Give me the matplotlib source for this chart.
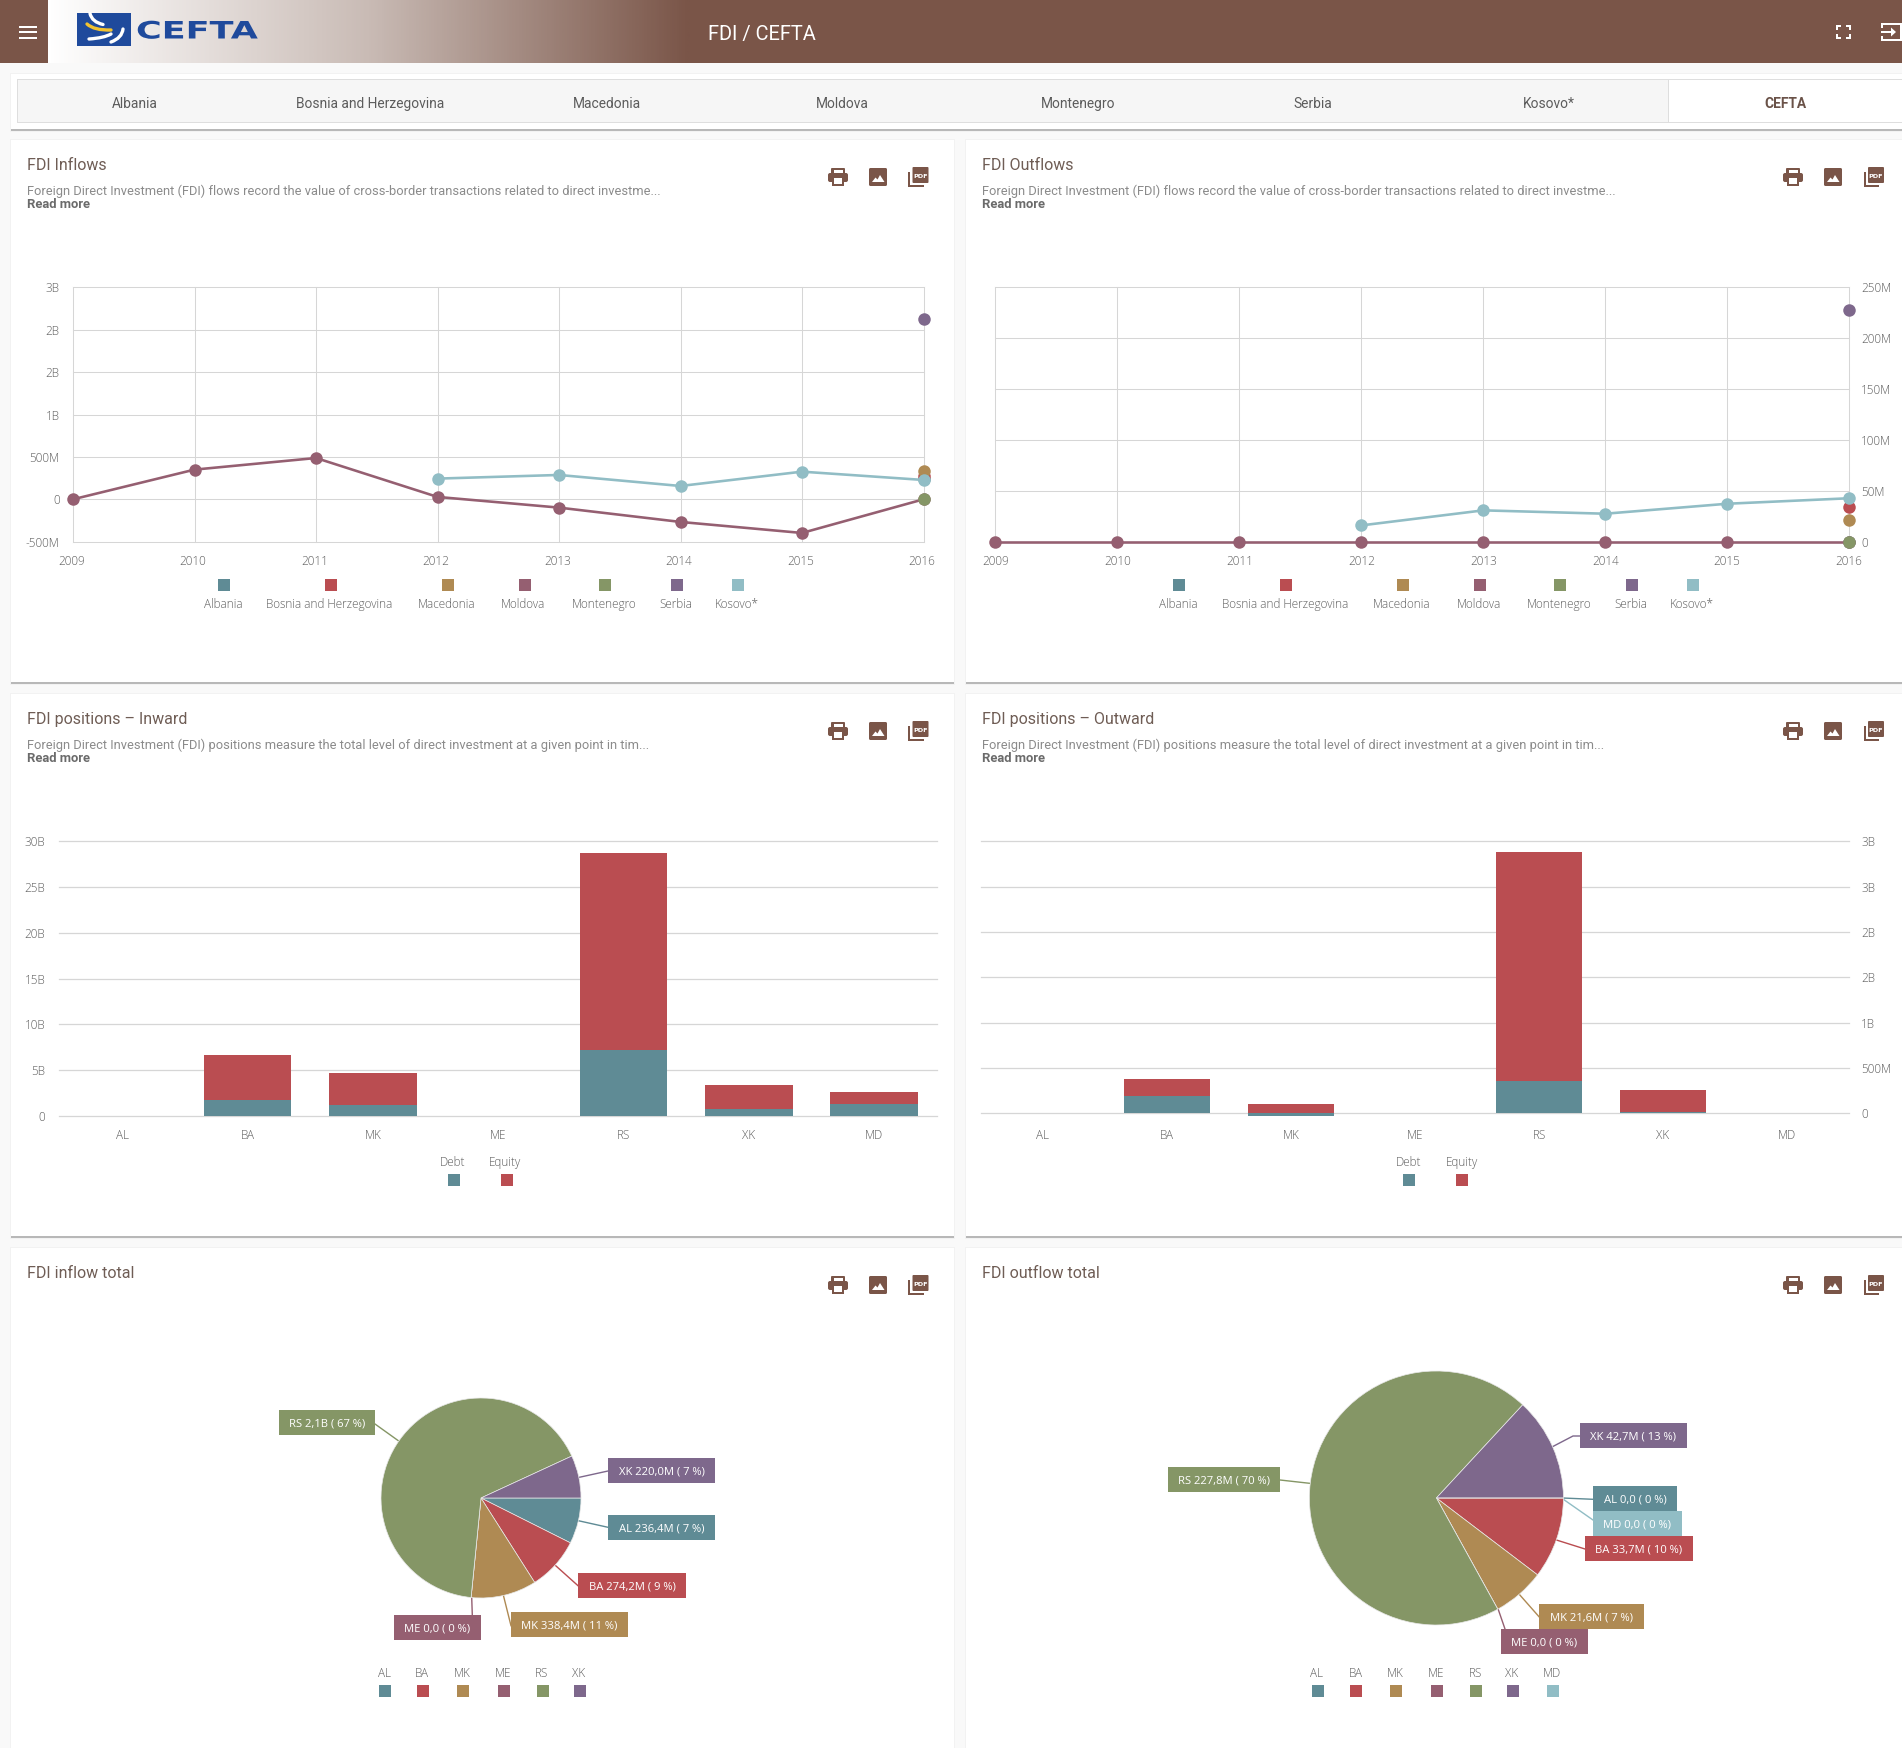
import numpy as np
import matplotlib
matplotlib.use("Agg")
import matplotlib.pyplot as plt
from matplotlib.patches import Rectangle, FancyBboxPatch, PathPatch, Polygon
from matplotlib.path import Path
from matplotlib.colors import LinearSegmentedColormap
from matplotlib.patheffects import AbstractPathEffect
from matplotlib.transforms import Affine2D, ScaledTranslation

W, H = 1902, 1749
Y_SHIFT = 1
BROWN = "#7a5548"
COL_AL = "#5f8b95"
COL_BA = "#ba4d51"
COL_MK = "#af8a53"
COL_MD = "#955f71"
COL_ME = "#859666"
COL_RS = "#7e688c"
COL_XK = "#91bdc5"
GRID = "#d6d6d6"
TICK = "#5e5e5e"
CHART_FONT = "Open Sans"
UI_FONT = "Roboto"

# data
tabs = ["Albania", "Bosnia and Herzegovina", "Macedonia", "Moldova", "Montenegro", "Serbia", "Kosovo*"]
years = [2009, 2010, 2011, 2012, 2013, 2014, 2015, 2016]
nan = float("nan")

# inflows, millions
in_albania = [nan, nan, nan, nan, nan, nan, nan, 236.4]
in_bosnia = [nan, nan, nan, nan, nan, nan, nan, 274.2]
in_macedonia = [nan, nan, nan, nan, nan, nan, nan, 338.4]
in_moldova = [0, 350, 487, 28, -98, -267, -397, 0]
in_montenegro = [nan, nan, nan, nan, nan, nan, nan, 0]
in_serbia = [nan, nan, nan, nan, nan, nan, nan, 2125]
in_kosovo = [nan, nan, nan, 244, 287, 157, 326, 228]
in_ticks = [-500, 0, 500, 1000, 1500, 2000, 2500]
in_ticklabels = ["-500M", "0", "500M", "1B", "2B", "2B", "3B"]

# outflows, millions
out_albania = [nan, nan, nan, nan, nan, nan, nan, 0]
out_bosnia = [nan, nan, nan, nan, nan, nan, nan, 33.7]
out_macedonia = [nan, nan, nan, nan, nan, nan, nan, 21.6]
out_moldova = [0, 0, 0, 0, 0, 0, 0, 0]
out_montenegro = [nan, nan, nan, nan, nan, nan, nan, 0]
out_serbia = [nan, nan, nan, nan, nan, nan, nan, 227.8]
out_kosovo = [nan, nan, nan, 16, 30.8, 27.5, 37.3, 42.7]
out_ticks = [0, 50, 100, 150, 200, 250]
out_ticklabels = ["0", "50M", "100M", "150M", "200M", "250M"]

# positions
codes = ["AL", "BA", "MK", "ME", "RS", "XK", "MD"]
inward_debt = [0, 1.75, 1.2, 0, 7.24, 0.76, 1.35]
inward_equity = [0, 4.91, 3.5, 0, 21.48, 2.62, 1.27]
inward_ticks = [0, 5, 10, 15, 20, 25, 30]
inward_ticklabels = ["0", "5B", "10B", "15B", "20B", "25B", "30B"]
outward_debt = [0, 191, -26, 0, 357, 15, 0]
outward_equity = [0, 188, 103, 0, 2526, 242, 0]
outward_ticks = [0, 500, 1000, 1500, 2000, 2500, 3000]
outward_ticklabels = ["0", "500M", "1B", "2B", "2B", "3B", "3B"]

# totals
pie_in_codes = ["AL", "BA", "MK", "ME", "RS", "XK"]
pie_in_values = [236.4, 274.2, 338.4, 0, 2125, 220.0]
pie_in_labels = ["AL 236,4M ( 7 %)", "BA 274,2M ( 9 %)", "MK 338,4M ( 11 %)", "ME 0,0 ( 0 %)",
                 "RS 2,1B ( 67 %)", "XK 220,0M ( 7 %)"]
pie_out_codes = ["AL", "BA", "MK", "ME", "RS", "XK", "MD"]
pie_out_values = [0, 33.7, 21.6, 0, 227.8, 42.7, 0]
pie_out_labels = ["AL 0,0 ( 0 %)", "BA 33,7M ( 10 %)", "MK 21,6M ( 7 %)", "ME 0,0 ( 0 %)",
                  "RS 227,8M ( 70 %)", "XK 42,7M ( 13 %)", "MD 0,0 ( 0 %)"]

line_colors = [COL_AL, COL_BA, COL_MK, COL_MD, COL_ME, COL_RS, COL_XK]
pie_in_colors = [COL_AL, COL_BA, COL_MK, COL_MD, COL_ME, COL_RS]
pie_out_colors = line_colors


def px(v):
    return v * 0.72


# logo lettering is wider than any installed font
class StretchX(AbstractPathEffect):
    def __init__(self, x0, sx):
        super().__init__()
        self.x0 = x0
        self.sx = sx

    def draw_path(self, renderer, gc, tpath, affine, rgbFace):
        stretch = Affine2D().translate(-self.x0, 0).scale(self.sx, 1).translate(self.x0, 0)
        renderer.draw_path(gc, tpath, affine + stretch, rgbFace)


fig = plt.figure(figsize=(W / 100, H / 100), dpi=100, facecolor="#f9f9f9")
bg = fig.add_axes([0, 0, 1, 1], zorder=0)
bg.set_xlim(0, W)
bg.set_ylim(H - Y_SHIFT, -Y_SHIFT)
bg.axis("off")


def box(x0, y0, x1, y1, color, z=1):
    bg.add_patch(Rectangle((x0, y0), x1 - x0, y1 - y0, fc=color, ec="none", zorder=z))


def rbox(x0, y0, x1, y1, color, r=2, z=5):
    bg.add_patch(FancyBboxPatch((x0 + r, y0 + r), x1 - x0 - 2 * r, y1 - y0 - 2 * r,
                                boxstyle="round,pad=%f" % r, fc=color, ec="none", zorder=z))


def label(x, y, s, size=11.7, color=TICK, ha="center", weight="light", family=CHART_FONT, z=6):
    # baseline anchored so descenders do not move the text
    bg.text(x, y - 1 + 0.36 * size, s, fontsize=px(size), color=color, ha=ha, va="baseline", fontweight=weight,
            family=family, zorder=z)


def swoosh(p0, c, p1, color, lw):
    path = Path([p0, c, p1], [Path.MOVETO, Path.CURVE3, Path.CURVE3])
    bg.add_patch(PathPatch(path, fc="none", ec=color, lw=lw, capstyle="round", zorder=4))


def print_icon(cx, cy):
    rbox(cx - 7, cy - 9, cx + 7, cy - 3, BROWN, 1)
    rbox(cx - 10, cy - 4, cx + 10, cy + 5, BROWN, 2)
    box(cx - 4.5, cy - 7.5, cx + 4.5, cy - 4, "white", 6)
    box(cx - 6, cy + 1, cx + 6, cy + 9, BROWN, 6)
    box(cx - 4, cy + 1, cx + 4, cy + 6.5, "white", 7)


def image_icon(cx, cy):
    rbox(cx - 9, cy - 9, cx + 9, cy + 9, BROWN, 1.5)
    bg.add_patch(Polygon([(cx - 6, cy + 5), (cx - 2.5, cy + 0.5), (cx - 0.5, cy + 2.5), (cx + 2, cy - 2),
                          (cx + 6.5, cy + 5)], fc="white", ec="none", zorder=6))


def pdf_icon(cx, cy):
    box(cx - 10.5, cy - 5, cx - 8.5, cy + 10, BROWN, 5)
    box(cx - 10.5, cy + 8, cx + 5, cy + 10, BROWN, 5)
    rbox(cx - 6, cy - 10, cx + 10, cy + 6, BROWN, 1)
    label(cx + 2, cy - 1, "PDF", 6.5, "white", weight="bold", family="DejaVu Sans", z=7)


def card(x0, y0, x1, y1):
    box(x0 - 1, y0 - 1, x1 + 1, y1 + 3, "#f2f2f2")
    box(x0, y1 - 1, x1, y1 + 1.5, "#b8b8b8", 2)
    box(x0, y0, x1, y1, "white", 3)


def card_text(x, y, title, desc=None):
    label(x, y, title, 16, "#6f5d55", ha="left", weight="normal", family=UI_FONT)
    if desc:
        label(x, y + 26.5, desc, 12.95, "#8b8b8b", ha="left", weight="normal", family=UI_FONT)
        label(x, y + 39.5, "Read more", 13, "#6b6b6b", ha="left", weight="bold", family=UI_FONT)


def icons(x_print, x_image, x_pdf, y):
    print_icon(x_print, y)
    image_icon(x_image, y)
    pdf_icon(x_pdf, y)


def chart_axes(x0, y0, x1, y1):
    ax = fig.add_axes([x0 / W, 1 - (y1 + Y_SHIFT) / H, (x1 - x0) / W, (y1 - y0) / H], zorder=2)
    ax.patch.set_alpha(0)
    return ax


def style_ticks(ax, xpad, ypad):
    ax.tick_params(length=0, labelsize=px(11.8), labelcolor=TICK, pad=px(ypad), axis="y")
    ax.tick_params(length=0, labelsize=px(11.8), labelcolor=TICK, pad=px(xpad), axis="x")
    for t in ax.get_xticklabels() + ax.get_yticklabels():
        t.set_fontfamily(CHART_FONT)
        t.set_fontweight("light")
    lift = ScaledTranslation(0, 1 / 100, fig.dpi_scale_trans)
    for t in ax.get_yticklabels():
        t.set_transform(t.get_transform() + lift)


def line_panel(box_px, series, ticks, ticklabels, right=False, label_dx=0):
    ax = chart_axes(*box_px)
    for vals, c in zip(series, line_colors):
        ax.plot(years, vals, color=c, lw=px(2.6), marker="o", ms=px(12.5), mew=0, clip_on=False, zorder=4)
    ax.set_xlim(years[0], years[-1])
    ax.set_ylim(ticks[0], ticks[-1])
    ax.set_xticks(years)
    ax.set_yticks(ticks)
    ax.set_yticklabels(ticklabels)
    ax.grid(True, color=GRID, lw=0.75)
    ax.set_axisbelow(True)
    for g in ax.get_xgridlines() + ax.get_ygridlines():
        g.set_clip_on(False)
    for s in ax.spines.values():
        s.set_visible(False)
    if right:
        ax.yaxis.tick_right()
    style_ticks(ax, 12, 12 if right else 13.5)
    if label_dx:
        shift = ScaledTranslation(label_dx / 100, 0, fig.dpi_scale_trans)
        for t in ax.get_xticklabels():
            t.set_transform(t.get_transform() + shift)
    return ax


def bar_panel(box_px, debt, equity, ticks, ticklabels, ymin, right=False):
    ax = chart_axes(*box_px)
    pos = np.arange(len(codes))
    ax.bar(pos, debt, width=0.7, color=COL_AL, zorder=3)
    ax.bar(pos, equity, width=0.7, bottom=np.maximum(debt, 0), color=COL_BA, zorder=3)
    ax.set_xlim(-0.5, len(codes) - 0.5)
    ax.set_ylim(ymin, ticks[-1])
    ax.set_xticks(pos)
    ax.set_xticklabels(codes)
    ax.set_yticks(ticks)
    ax.set_yticklabels(ticklabels)
    ax.grid(True, axis="y", color=GRID, lw=0.9)
    ax.set_axisbelow(True)
    for g in ax.get_ygridlines():
        g.set_clip_on(False)
    for s in ax.spines.values():
        s.set_visible(False)
    if right:
        ax.yaxis.tick_right()
    style_ticks(ax, 12, 12 if right else 14)
    return ax


def pie_panel(cx, cy, r, values, colors):
    ax = chart_axes(cx - r, cy - r, cx + r, cy + r)
    ax.pie(values, colors=colors, startangle=0, counterclock=False, radius=1,
           wedgeprops={"lw": 0.5, "ec": "#e8e8e8"})
    ax.set_xlim(-1, 1)
    ax.set_ylim(-1, 1)


def pie_tag(rect, s, color, line):
    x0, y0, x1, y1 = rect
    bg.plot([p[0] for p in line], [p[1] for p in line], color=color, lw=px(1.4), zorder=4)
    box(x0, y0, x1, y1, color, 5)
    label((x0 + x1) / 2, (y0 + y1) / 2, s, 11.3, "white", weight="normal", z=7)


def legend_row(xs_swatch, xs_text, y_swatch, y_text, names, colors):
    for xs, xt, n, c in zip(xs_swatch, xs_text, names, colors):
        box(xs - 6, y_swatch - 6, xs + 6, y_swatch + 6, c, 5)
        label(xt, y_text, n)


# header
box(0, -2, W, 63, BROWN)
cmap = LinearSegmentedColormap.from_list("hdr", ["white", "#c9bbb5", BROWN])
bg.imshow(np.linspace(0, 1, 600).reshape(1, -1), extent=(48, 690, 63, -2), cmap=cmap, aspect="auto", zorder=2)
bg.set_xlim(0, W)
bg.set_ylim(H - Y_SHIFT, -Y_SHIFT)
for y in (26.5, 32, 37.7):
    box(19, y - 1, 37, y + 1, "white", 3)
box(76.7, 13, 130.7, 45.7, "#1f4a9c", 3)
swoosh((90, 13.5), (92, 22), (103, 24.5), "white", 2.4)
swoosh((87, 24), (94, 30.5), (111, 30), "#f2c230", 2.4)
swoosh((89, 39), (104, 38), (111, 34), "white", 2.4)
swoosh((111, 42), (122, 38), (123, 29), "white", 2.4)
logo = bg.text(136, 38.5, "CEFTA", fontsize=px(24), fontweight="bold", color="#1f4a9c", family="DejaVu Sans",
               va="baseline", ha="left", zorder=4)
logo.set_path_effects([StretchX(136, 1.46)])
label(762, 33, "FDI / CEFTA", 20, "white", weight="normal", family=UI_FONT)
# fullscreen icon
for xa, xb, ya, yb in [(1836, 1841, 25, 27), (1846, 1851, 25, 27), (1836, 1841, 37, 39), (1846, 1851, 37, 39),
                       (1836, 1838, 25, 30), (1849, 1851, 25, 30), (1836, 1838, 34, 39), (1849, 1851, 34, 39)]:
    box(xa, ya, xb, yb, "white", 4)
# exit icon
for xa, xb, ya, yb in [(1881, 1902, 23, 25), (1881, 1902, 39, 41), (1881, 1883, 23, 28), (1881, 1883, 36, 41),
                       (1900, 1902, 23, 41), (1881, 1892, 31, 33)]:
    box(xa, ya, xb, yb, "white", 4)
bg.add_patch(Polygon([(1891, 27.5), (1896, 32), (1891, 36.5)], fc="white", ec="none", zorder=4))

# tab bar
card(11, 74, W + 2, 129)
box(16.5, 79, W + 2, 123, "#dedede", 4)
box(18, 80, W + 2, 122, "#f6f6f6", 4)
box(1668, 79, W + 2, 123, "#dedede", 4)
box(1669, 80, W + 2, 122, "white", 5)
tab_x = [134.7, 370, 607, 842, 1078, 1313, 1549]
for x, t in zip(tab_x, tabs):
    label(x, 103, t, 13.7, "#5c5c5c", weight="normal", family=UI_FONT)
label(1785, 103, "CEFTA", 13.7, "#6a5248", weight="bold", family=UI_FONT)

# cards
card(11, 140, 954, 682)
card(966, 140, W + 2, 682)
card(11, 694, 954, 1236)
card(966, 694, W + 2, 1236)
card(11, 1248, 954, H + 5)
card(966, 1248, W + 2, H + 5)

desc_flows = "Foreign Direct Investment (FDI) flows record the value of cross-border transactions related to direct investme..."
desc_pos = "Foreign Direct Investment (FDI) positions measure the total level of direct investment at a given point in tim..."
card_text(27, 164, "FDI Inflows", desc_flows)
card_text(982, 164, "FDI Outflows", desc_flows)
card_text(27, 718, "FDI positions \u2013 Inward", desc_pos)
card_text(982, 718, "FDI positions \u2013 Outward", desc_pos)
card_text(27, 1272.5, "FDI inflow total")
card_text(982, 1272.5, "FDI outflow total")
for y in (177, 731, 1285):
    icons(838, 878, 918.5, y)
    icons(1793, 1833, 1874, y)

# line charts
line_panel((73, 287.3, 923.5, 541.7),
           [in_albania, in_bosnia, in_macedonia, in_moldova, in_montenegro, in_serbia, in_kosovo],
           in_ticks, in_ticklabels, label_dx=-1.5)
line_panel((995.4, 287.3, 1849.2, 541.7),
           [out_albania, out_bosnia, out_macedonia, out_moldova, out_montenegro, out_serbia, out_kosovo],
           out_ticks, out_ticklabels, right=True)
legend_row([224, 331, 448, 525, 605, 677, 738], [223, 329.5, 446.5, 523.5, 604, 676, 737], 585, 604, tabs, line_colors)
legend_row([1179.3, 1286.2, 1402.8, 1480.3, 1560.2, 1632.3, 1693], [1178, 1285, 1402, 1479, 1559, 1631, 1691.5], 585, 604, tabs, line_colors)

# bar charts
bar_panel((59.4, 841.3, 937, 1116), inward_debt, inward_equity, inward_ticks, inward_ticklabels, 0)
bar_panel((981, 841.3, 1849, 1115.7), outward_debt, outward_equity, outward_ticks, outward_ticklabels, -26, right=True)
legend_row([453.8, 507], [452.5, 505], 1180, 1162, ["Debt", "Equity"], [COL_AL, COL_BA])
legend_row([1408.8, 1462], [1408.8, 1461.7], 1180, 1162, ["Debt", "Equity"], [COL_AL, COL_BA])

# pies
pie_panel(481, 1498, 100, pie_in_values, pie_in_colors)
in_rects = [(608, 1515, 715, 1540), (578, 1573, 686, 1598), (511, 1612, 628, 1637), (394, 1615, 481, 1640),
            (279, 1410, 375, 1435), (608, 1458, 715, 1483)]
in_lines = [[(578.3, 1520.7), (608, 1527.3)], [(555.7, 1565.7), (578, 1585.7)], [(503.3, 1595), (511, 1625.7)],
            [(471.7, 1597.3), (472.3, 1615)], [(398.3, 1440.7), (375, 1424)], [(579.3, 1477.3), (608, 1471)]]
for r, s, c, l in zip(in_rects, pie_in_labels, pie_in_colors, in_lines):
    pie_tag(r, s, c, l)
legend_row([385, 423, 463, 504, 543, 580], [384, 421.7, 462.3, 502.7, 541.7, 579], 1691, 1672.7, pie_in_codes, pie_in_colors)

pie_panel(1436.4, 1498, 127, pie_out_values, pie_out_colors)
out_rects = [(1592.9, 1486, 1677, 1511), (1585, 1536, 1693, 1561), (1539, 1604, 1644, 1629), (1501, 1629, 1588, 1654),
             (1168, 1467, 1280, 1492), (1580, 1423, 1687, 1448), (1592.9, 1511, 1682, 1536)]
out_lines = [[(1562.5, 1498), (1593, 1499.3)], [(1556.4, 1540), (1585, 1549)], [(1519.6, 1594.7), (1539, 1616.7)],
             [(1498, 1608.7), (1505, 1629)], [(1309.6, 1483.3), (1280, 1480)],
             [(1552.5, 1446.7), (1573, 1436), (1580, 1436)], [(1562.5, 1498.7), (1593, 1520)]]
for r, s, c, l in zip(out_rects, pie_out_labels, pie_out_colors, out_lines):
    pie_tag(r, s, c, l)
legend_row([1317.9, 1356, 1396, 1436.8, 1476, 1512.9, 1552.9],
           [1316.8, 1355.4, 1395, 1436.4, 1475.7, 1511.8, 1552.5], 1691, 1672.7, pie_out_codes, pie_out_colors)

fig.savefig("out.png", dpi=100, facecolor=fig.get_facecolor())
